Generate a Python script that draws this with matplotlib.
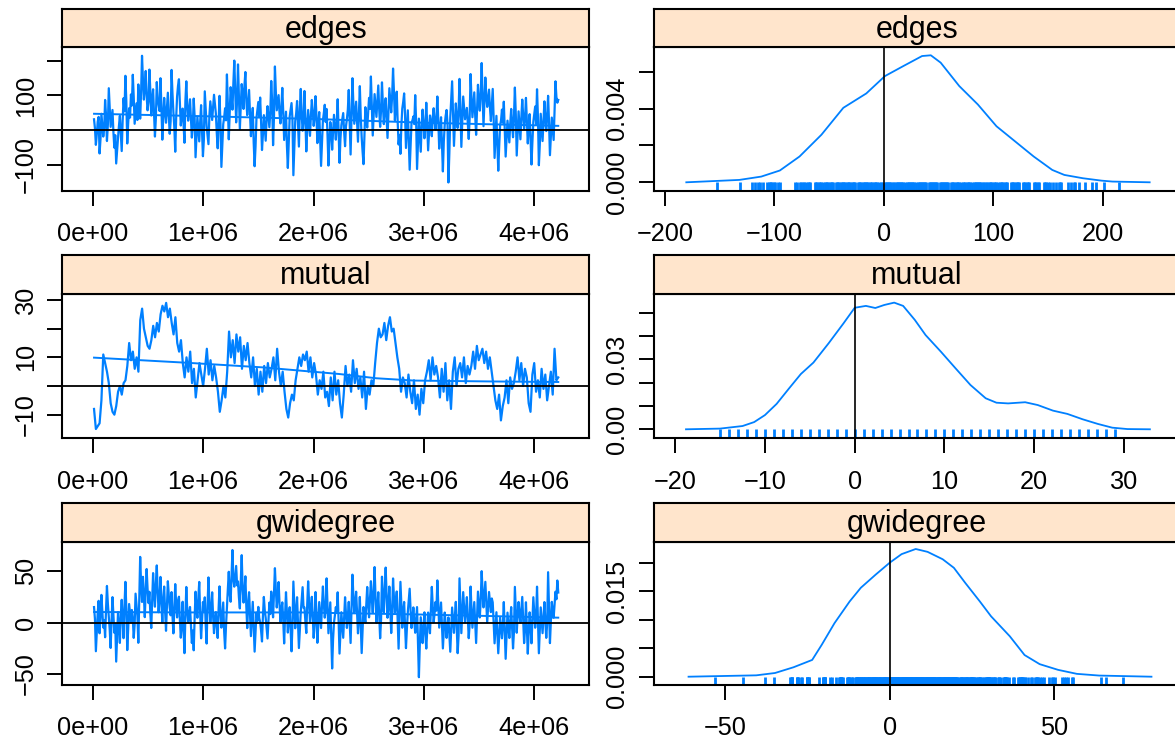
import numpy as np
import matplotlib
matplotlib.use("Agg")
import matplotlib.pyplot as plt

plt.rcParams['font.family'] = ['Liberation Sans', 'DejaVu Sans']

BLUE = '#0080ff'
STRIP = '#ffe5cc'

stats = ['edges', 'mutual', 'gwidegree']

# sampled iterations, first and last
iter_first = 12000
iter_last = 4217000

# MCMC traces (12 samples per 1e5 iterations)
edges_trace = [
    31, 5, -43, -12, 24, 38, -68, -27, 47, 14, -19, 3,
    87, 44, -32, 16, 121, 66, 9, 35, 58, -6, -51, -15,
    -97, -58, -23, 12, 41, -8, -61, 26, 92, 54, 157, 83,
    -39, 19, 63, 36, 103, 71, 160, 97, 18, 46, 77, 29,
    132, 74, 33, 109, 215, 146, 88, 123, 171, 99, 57, 81,
    175, 113, 42, 86, 118, 49, -19, 34, 139, 92, 71, 55,
    150, 68, -28, 37, 93, 52, 21, 64, 108, 43, -11, 25,
    174, 106, 52, 8, -63, 35, 97, 128, 147, 76, 13, 45,
    62, 17, -37, 84, 141, 69, 27, 58, 89, 32, -22, 11,
    91, 39, -79, -18, 38, 2, -33, 23, 72, -4, -76, -29,
    112, 61, 11, -14, -41, 42, 83, 56, 29, 67, 102, 74,
    48, -9, -53, 22, 99, 18, -107, -44, 17, 36, 63, 28,
    161, 73, -27, 51, 124, 94, 59, 137, 201, 116, 22, 87,
    190, 96, 3, 72, 133, 104, 61, 129, 168, 85, 43, 78,
    116, 47, -18, 26, 64, -37, -105, -48, 34, 57, 81, 39,
    94, 24, -58, -13, 43, 6, -31, 32, 69, 37, 8, 53,
    142, 82, -44, 39, 184, 111, 57, 79, 101, 48, 19, 66,
    122, 53, -29, 14, 53, -46, -110, -36, 39, 59, 78, 31,
    -131, -56, 26, 47, 84, 19, -48, 63, 119, 44, -2, 27,
    113, 33, -62, 4, 58, 21, -17, 42, 87, 54, 12, 36,
    98, 41, -38, 16, 52, -24, -104, -41, 28, 49, 73, 23,
    61, -16, -103, -35, 23, 3, -57, -9, 44, 7, -28, 18,
    89, 2, -95, -26, 14, 31, 49, -6, -47, 11, 32, 59,
    116, 25, -71, 34, 150, 76, 18, 52, 82, 27, -34, 46,
    127, 38, -21, -63, -99, -12, 66, 29, 7, 51, 93, 61,
    155, 67, -16, 47, 104, 71, 38, 86, 129, 59, 9, 57,
    138, 73, 17, 62, 92, 33, -23, 48, 121, 84, 51, 98,
    178, 109, 28, 76, 111, 24, -42, -14, -69, 12, 62, 81,
    106, 43, -52, 4, 57, -31, -115, -43, 21, 28, 39, 17,
    101, 26, -113, -38, 33, -17, -63, 13, 59, 22, -24, 9,
    79, 16, -59, -7, 42, 21, -18, 37, 63, 26, 1, 34,
    97, 29, -54, 4, 37, -39, -120, -33, 16, 41, 58, 19,
    -152, -67, 36, 87, 141, 44, -46, 15, 77, 38, 6, 52,
    148, 61, -49, 24, 97, 63, 31, 47, 64, 18, -26, 35,
    162, 91, 37, 74, 109, 42, -14, 57, 131, 86, 56, 103,
    194, 107, 11, 82, 152, 98, 67, 93, 117, 64, 26, 71,
    119, 34, -81, -19, 41, -42, -118, -47, 13, 28, 59, 21,
    82, 7, -77, -24, 27, -3, -36, 19, 61, 14, -21, 39,
    123, 46, -74, -9, 54, 13, -27, 36, 88, 42, 4, 33,
    93, 29, -39, 11, 46, -28, -100, -34, 24, 47, 68, 17,
    118, 37, -102, -43, 47, 8, -32, 26, 83, 31, -3, 44,
    99, 22, -73, -16, 36, 2, -29, 58, 141, 96, 79, 87,
]
# (6 samples per 1e5 iterations)
mutual_trace = [
    -8, -15, -14, -13, -5, 11,   8, 5, 1, -6, -9, -10,
    -7, -2, 0, -3, 1, 2,         7, 15, 9, 12, 6, 10,
    5, 23, 27, 20, 17, 14,       13, 16, 21, 17, 22, 19,
    25, 28, 26, 29, 24, 27,      22, 18, 24, 15, 12, 16,
    8, 3, 10, 5, 12, 1,          6, -4, 2, 8, 4, 0,
    6, 13, 4, 9, 2, 7,           3, -2, -9, -5, 0, -4,
    5, 19, 10, 16, 8, 18,        12, 17, 6, 14, 9, 15,
    8, 3, 10, 0, 6, -3,          5, -2, 7, 1, 8, 3,
    6, 10, 2, 13, 5, 0,          5, -2, -8, -11, -6, -3,
    -5, 2, 6, 10, 7, 11,         9, 12, 5, 10, 3, 8,
    4, -3, 2, -1, 5, -4,         -2, -7, 3, -5, 5, -3,
    2, -6, -11, -3, 7, 0,        4, -2, 9, 1, 6, -1,
    3, -4, 5, -8, 0, -3,         2, 0, 8, 15, 20, 17,
    18, 22, 16, 21, 24, 19,      20, 15, 10, 6, -2, 3,
    1, -4, 4, -2, -6, 2,         -8, -3, -10, -1, -6, 2,
    5, 9, 2, 10, 4, 7,           3, -4, 6, -2, 8, -5,
    2, -8, 5, 10, 0, 6,          8, 3, 10, 1, 7, 4,
    7, 12, 6, 14, 9, 11,         13, 8, 12, 6, 10, 5,
    0, -5, -8, -3, -12, -7,      -4, 2, -6, 3, -1, 1,
    5, 10, 2, 8, 0, 6,           3, -6, -9, 4, 8, -2,
    2, -4, 6, -1, 4, -5,         0, 5, -3, 13, 2, 3,
]
# (12 samples per 1e5 iterations)
gwidegree_trace = [
    15.2, 3.7, -27.8, -8.4, 9.6, 21.3, -10.3, 6.1, 27.1, 11.8, -4.7, 2.6,
    -14.2, 12.9, 35.8, 18.4, 5.3, -6.7, -24.6, 1.9, 24.9, 8.2, -9.8, -1.3,
    -37.9, -12.6, 10.4, -3.1, -19.7, 7.8, 22.3, 2.4, -15.1, 16.7, 39.8, 13.5,
    -26.7, -6.2, 18.2, 8.9, 0.6, 12.4, 4.3, -14.8, -2.2, 28.3, 17.1, 6.6,
    -19.6, 23.4, 64.1, 37.8, 20.2, 44.7, 26.9, 5.4, 31.6, 52.3, 33.2, 19.1,
    30.1, 9.3, -5.2, 21.7, 48.3, 27.4, 15.6, 38.9, 55.8, 29.2, 10.2, 24.3,
    44.6, 18.6, 0.3, 22.9, 35.2, 11.4, -7.9, 16.3, 40.4, 26.7, 14.7, 7.2,
    29.8, 6.8, -10.4, 13.7, 37.6, 17.9, 5.1, 21.2, 25.3, 3.4, -14.6, -3.7,
    20.4, -6.9, -29.7, 7.3, 34.8, 12.2, 0.9, 9.1, 15.3, -2.8, -19.8, -7.6,
    -26.9, 4.1, 30.2, 13.3, 4.8, 23.8, 39.7, 8.7, -15.2, 1.2, 20.1, 11.1,
    24.7, -1.8, -20.3, 16.9, 44.1, 19.3, 0.2, 12.7, 29.6, 6.4, -10.2, 3.9,
    10.3, -4.4, -14.9, 14.1, 35.4, 9.4, -4.8, 7.7, 19.7, -8.8, -25.1, -3.3,
    15.2, 32.8, 49.6, 27.7, 20.4, 46.3, 70.8, 41.9, 35.1, 45.8, 55.3, 36.4,
    40.2, 24.6, 13.9, 39.3, 65.8, 33.7, 19.6, 31.1, 45.2, 16.1, -5.3, 18.8,
    29.7, 7.9, -13.1, 2.9, 20.3, -4.1, -28.2, -9.3, 9.8, 1.6, 15.4, 4.6,
    0.4, -7.7, -18.3, 6.3, 25.1, 11.9, 4.7, -5.8, -15.4, 3.1, 19.6, 8.4,
    30.3, 16.4, 5.2, 28.8, 53.1, 32.1, 14.8, 25.7, 39.6, 18.1, 0.7, 13.2,
    19.8, 2.3, -20.2, 6.9, 29.7, 10.6, -9.6, 4.4, 15.1, -7.2, -27.9, -2.4,
    40.1, 17.2, -5.4, 11.6, 24.8, -1.1, -24.7, -6.4, 10.3, 22.6, 34.6, 14.4,
    14.9, 1.4, -10.1, 17.8, 40.3, 19.9, 0.5, 12.1, 25.2, 5.7, -14.8, -0.9,
    29.9, 8.1, -19.6, -1.6, 20.1, 7.4, -5.2, 16.6, 35.3, 18.2, 4.9, 12.8,
    43.2, 16.2, -10.3, 4.2, 19.8, -12.4, -44.6, -16.3, 0.2, 7.1, 15.1, 9.7,
    29.6, 2.1, -30.1, -9.1, 10.2, -2.6, -14.7, 5.9, 24.8, 8.6, -5.1, 6.2,
    20.3, 0.8, -19.8, 13.9, 46.8, 26.2, 9.7, 19.2, 30.2, 10.9, -10.4, 3.6,
    25.1, -1.4, -29.6, -6.1, 15.3, 6.7, 0.1, 17.4, 34.8, 18.7, 5.2, 21.9,
    40.4, 23.1, 9.8, 30.7, 54.2, 24.4, -0.3, 13.6, 29.7, 6.9, -15.2, 2.7,
    44.8, 25.8, 10.1, 31.9, 53.7, 27.3, 4.8, 17.6, 35.2, 12.6, -10.1, 8.8,
    43.1, 23.9, 9.7, 19.4, 30.4, 1.8, -25.3, 6.8, 39.8, 16.8, -4.9, 10.7,
    20.2, -1.9, -24.8, -5.6, 10.4, 21.6, 33.1, 12.3, -5.2, 3.3, 14.9, 1.1,
    -9.8, 2.2, 15.2, -17.6, -53.1, -21.4, 5.3, -6.6, -19.9, -3.9, 10.1, -11.3,
    -25.2, -7.4, 9.9, 0.9, -10.3, 12.6, 34.9, 16.1, 0.4, 9.2, 20.2, 11.7,
    41.2, 17.7, -4.8, 7.6, 19.7, -2.9, -25.1, -7.9, 9.9, -1.7, -14.8, -3.6,
    5.1, -11.8, -28.3, -6.8, 14.8, 2.8, -9.9, 6.5, 20.3, -4.6, -29.7, -12.7,
    43.2, 15.8, -10.2, 9.6, 29.8, 14.2, 0.3, 11.3, 24.9, 4.7, -15.1, -1.2,
    35.2, 13.1, -4.9, 8.3, 20.1, 0.6, -19.8, 4.5, 30.3, 17.3, 5.1, 22.1,
    50.2, 31.3, 14.9, 27.1, 39.8, 18.9, 0.2, 15.7, 29.9, 19.6, 10.3, 23.6,
    19.8, -0.6, -20.1, -4.3, 10.2, -9.4, -29.8, -11.6, 4.9, -5.4, -15.2, -1.9,
    20.1, -8.2, -35.2, -12.3, 9.8, -2.1, -14.9, 1.7, 15.2, -4.2, -25.1, -8.9,
    34.9, 12.4, -9.8, 6.2, 20.2, 8.7, 0.1, 13.4, 25.1, 2.6, -19.9, -6.3,
    19.9, -4.7, -30.2, -8.6, 10.1, -3.4, -20.1, 2.2, 24.8, 9.3, -4.9, 5.6,
    35.1, 3.8, -29.8, -8.1, 14.9, 2.4, -10.2, 4.1, 20.1, 1.3, -14.8, -0.4,
    49.2, 14.6, -19.9, 1.5, 20.3, 11.2, 4.8, 17.9, 30.2, 22.8, 41.1, 29.4,
]

# loess smooth lines as drawn in the trace panels
edges_smooth_iter = [12000, 1.0e6, 2.0e6, 3.0e6, 4.217e6]
edges_smooth = [47, 40, 32, 21, 12]
mutual_smooth_iter = [12000, 0.86e6, 1.54e6, 2.23e6, 2.57e6, 2.91e6, 3.59e6, 4.217e6]
mutual_smooth = [9.9, 8.1, 6.5, 4.2, 2.7, 1.9, 1.6, 1.4]
gwidegree_smooth_iter = [12000, 0.86e6, 1.88e6, 2.91e6, 3.59e6, 4.217e6]
gwidegree_smooth = [10.4, 10.0, 10.0, 8.1, 6.5, 4.9]

# kernel density curves
edges_dens_x = [-180.5, -132, -112, -95, -77, -57, -37, -16, 1, 18, 35, 43,
                52, 69, 86, 103, 120, 137, 154, 165, 182, 199, 209, 243]
edges_dens_y = [0, 0.00013, 0.00031, 0.00064, 0.0014, 0.00258, 0.00404, 0.00482,
                0.00576, 0.00631, 0.00685, 0.00689, 0.00649, 0.00522, 0.00422,
                0.00304, 0.00222, 0.0014, 0.00067, 0.0004, 0.00022, 0.00009,
                0.00004, 0]
mutual_dens_x = [-18.8, -15, -12.5, -11.2, -10, -8.7, -7.3, -6.0, -4.6, -2.9, -1.25,
                 0, 1.25, 2.3, 3.3, 4.4, 5.4, 6.7, 7.9, 9.6, 11.25, 12.9, 14.6,
                 15.8, 17.1, 19, 20.4, 22.1, 23.7, 25.4, 27.1, 28.7, 30.4, 32.9]
mutual_dens_y = [0, 0.0003, 0.0014, 0.0031, 0.0061, 0.0109, 0.0176, 0.0237, 0.0286,
                 0.0369, 0.0454, 0.0521, 0.0529, 0.052, 0.0533, 0.0543, 0.0529,
                 0.0469, 0.0404, 0.0333, 0.0261, 0.019, 0.0133, 0.0114, 0.0111,
                 0.0116, 0.0104, 0.008, 0.0066, 0.0043, 0.0023, 0.0007, 0.0001, 0]
gwidegree_dens_x = [-61.2, -40.6, -34.9, -29.3, -23.6, -20.7, -16.8, -12.2, -8.8,
                    -4.3, 0, 3.6, 7.9, 11.5, 16.1, 19.5, 22.9, 27.4, 30.8, 36.5,
                    41, 45.6, 51.2, 56.9, 63.7, 79.6]
gwidegree_dens_y = [0, 0.00024, 0.00065, 0.00165, 0.00294, 0.00559, 0.0094, 0.0132,
                    0.0156, 0.0179, 0.02, 0.0215, 0.0224, 0.0219, 0.0206, 0.0191,
                    0.0165, 0.0132, 0.0106, 0.0071, 0.0038, 0.0022, 0.0012, 0.0005,
                    0.0002, 0]

traces = [edges_trace, mutual_trace, gwidegree_trace]
smooth_iters = [edges_smooth_iter, mutual_smooth_iter, gwidegree_smooth_iter]
smooths = [edges_smooth, mutual_smooth, gwidegree_smooth]
dens_xs = [edges_dens_x, mutual_dens_x, gwidegree_dens_x]
dens_ys = [edges_dens_y, mutual_dens_y, gwidegree_dens_y]

# axes ticks and labels (R drops the labels that would overlap)
trace_xticks = [0, 1e6, 2e6, 3e6, 4e6]
trace_xlabels = ['0e+00', '1e+06', '2e+06', '3e+06', '4e+06']
trace_yticks = [[-100, 0, 100, 200], [-10, 0, 10, 20, 30], [-50, 0, 50]]
trace_ylabels = [['\u2212100', '', '100', ''], ['\u221210', '', '10', '', '30'],
                 ['\u221250', '0', '50']]
dens_xticks = [[-200, -100, 0, 100, 200], [-20, -10, 0, 10, 20, 30], [-50, 0, 50]]
dens_xlabels = [['\u2212200', '\u2212100', '0', '100', '200'],
                ['\u221220', '\u221210', '0', '10', '20', '30'],
                ['\u221250', '0', '50']]
dens_yticks = [[0, 0.002, 0.004, 0.006], [0, 0.01, 0.02, 0.03, 0.04, 0.05],
               [0, 0.005, 0.010, 0.015, 0.020]]
dens_ylabels = [['0.000', '', '0.004', ''], ['0.00', '', '', '0.03', '', ''],
                ['0.000', '', '', '0.015', '']]

# panel geometry in pixels
W, H = 1175, 744
strip_tops = [9, 255, 502.7]
panel_rows = [(47, 191), (294, 438.3), (541.7, 685)]
left_cols = (62.3, 589)
right_cols = (653.7, 1180.4)
trace_xlim = (-0.2754e6, 4.4955e6)
trace_ylims = [(-176.7, 240.4), (-18.24, 32.1), (-60.7, 78.9)]
dens_xlims = [(-210.3, 271.1), (-22.4, 36.3), (-71.8, 88.4)]
dens_ylims = [(-0.000472, 0.00734), (-0.00386, 0.0580), (-0.001456, 0.02368)]

fig = plt.figure(figsize=(W / 100, H / 100), dpi=100)


def add_box(left, top, right, bottom):
    return fig.add_axes([left / W, 1 - bottom / H, (right - left) / W, (bottom - top) / H])


def style_panel(ax):
    for sp in ax.spines.values():
        sp.set_linewidth(1.5)
    ax.tick_params(direction='out', length=11, width=1.4, labelsize=18.2,
                   top=False, right=False)
    ax.tick_params(axis='x', pad=11.5)
    ax.tick_params(axis='y', pad=6.5)


def add_strip(cols, top, bottom, name):
    s = add_box(cols[0], top, cols[1], bottom)
    s.set_facecolor(STRIP)
    s.set_xticks([])
    s.set_yticks([])
    for sp in s.spines.values():
        sp.set_linewidth(1.5)
    s.text(0.5, 0.45, name, transform=s.transAxes, ha='center', va='center',
           fontsize=22)


for i, name in enumerate(stats):
    top, bottom = panel_rows[i]
    vals = np.array(traces[i], dtype=float)
    iters = np.linspace(iter_first, iter_last, len(vals))

    # trace panel
    ax = add_box(left_cols[0], top, left_cols[1], bottom)
    ax.plot(iters, vals, color=BLUE, lw=1.6)
    ax.plot(smooth_iters[i], smooths[i], color=BLUE, lw=1.4)
    ax.axhline(0, color='black', lw=1.3, zorder=3)
    ax.set_xlim(*trace_xlim)
    ax.set_ylim(*trace_ylims[i])
    ax.set_xticks(trace_xticks, trace_xlabels)
    ax.set_yticks(trace_yticks[i], trace_ylabels[i], rotation=90, va='center')
    style_panel(ax)
    add_strip(left_cols, strip_tops[i], top, name)

    # density panel with rug of the sampled values
    ax = add_box(right_cols[0], top, right_cols[1], bottom)
    ax.set_xlim(*dens_xlims[i])
    ax.set_ylim(*dens_ylims[i])
    rug = np.unique(vals)
    ax.vlines(rug, dens_ylims[i][0], 0, color=BLUE, lw=2.0)
    ax.plot(dens_xs[i], dens_ys[i], color=BLUE, lw=1.3)
    ax.axvline(0, color='black', lw=1.2, zorder=3)
    ax.set_xticks(dens_xticks[i], dens_xlabels[i])
    ax.set_yticks(dens_yticks[i], dens_ylabels[i], rotation=90, va='center')
    style_panel(ax)
    add_strip(right_cols, strip_tops[i], top, name)

fig.savefig('out.png', dpi=100)
